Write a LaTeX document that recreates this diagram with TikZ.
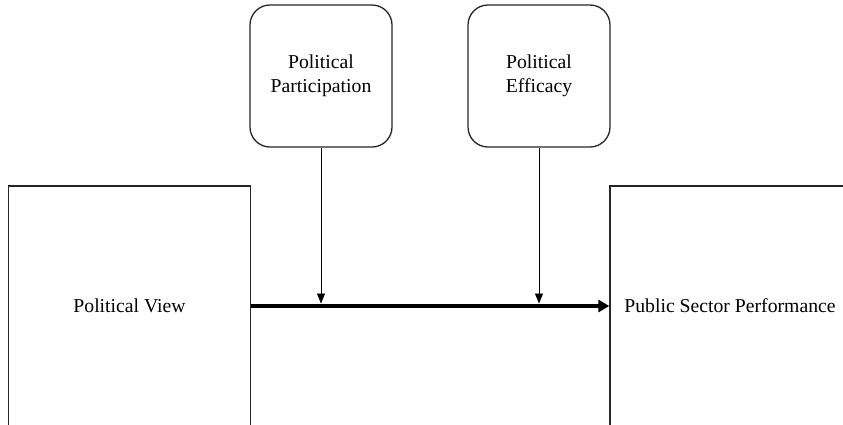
\documentclass[tikz,border=0pt]{standalone}
\usepackage{fontspec}
\setmainfont{Liberation Serif}
\usetikzlibrary{arrows.meta}
\begin{document}
\begin{tikzpicture}[x=1pt,y=-1pt,
  every node/.style={font=\fontsize{19.7}{23.5}\selectfont, inner sep=0pt},
  bigbox/.style={draw=black!85, line width=1.3pt, minimum width=242pt, minimum height=240pt},
  modbox/.style={draw=black!85, line width=1.3pt, rounded corners=20pt, minimum width=142pt, minimum height=142pt, align=center},
  mainarrow/.style={line width=3.6pt, -{Triangle[length=11pt,width=12pt]}},
  modarrow/.style={line width=0.7pt, -{Triangle[length=10pt,width=8pt]}}
]
\useasboundingbox (0,0) rectangle (843,424);
\node[bigbox] (pv) at (129.5,306) {Political View};
\node[bigbox, minimum width=240pt] (psp) at (730,306) {Public Sector Performance};
\node[modbox] (pp) at (321,76) {Political\\Participation};
\node[modbox] (pe) at (539,76) {Political\\Efficacy};
\coordinate (m1) at (321,303.5);
\coordinate (m2) at (539,303.5);
\draw[mainarrow] (pv.east) -- (psp.west);
\draw[modarrow] (pp.south) -- (m1);
\draw[modarrow] (pe.south) -- (m2);
\end{tikzpicture}
\end{document}
